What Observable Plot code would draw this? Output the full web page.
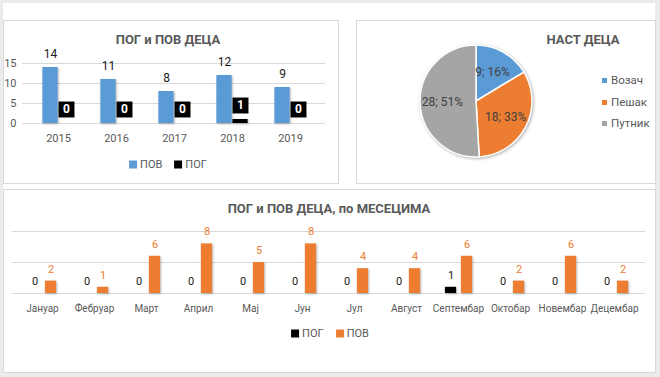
<!DOCTYPE html>
<html><head><meta charset="utf-8">
<script src="https://cdn.jsdelivr.net/npm/d3@7"></script>
<script src="https://cdn.jsdelivr.net/npm/@observablehq/plot@0.6"></script>
<style>
body{margin:0;background:#fff;font-family:Roboto,"Noto Sans",sans-serif;}
#root{position:relative;width:660px;height:377px;background:#ebebeb;overflow:hidden}
#inner{position:absolute;left:3px;top:3px;width:652px;height:369px;background:#fff}
.panel{position:absolute;border:1px solid #d9d9d9;box-sizing:border-box}
.chart{position:absolute}
.title{position:absolute;font-weight:bold;font-size:13px;color:#595959;white-space:nowrap;transform:translate(-50%,-50%)}
.legend{position:absolute;display:flex;align-items:center;font-size:11px;color:#595959;white-space:nowrap;transform:translate(-50%,-50%)}
.legend span.sw{display:inline-block;width:8px;height:8px;margin-right:3px}
.legend span.item{display:inline-flex;align-items:center;margin:0 6px}
.vleg{position:absolute;font-size:11.5px;color:#595959}
.vleg div{position:absolute;display:flex;align-items:center;white-space:nowrap;transform:translateY(-50%)}
.vleg span.sw{display:inline-block;width:5px;height:5px;margin-right:4px}
.shadow g[aria-label="bar"] rect{filter:drop-shadow(1.5px 1px 1px rgba(0,0,0,0.28))}
</style></head>
<body>
<div id="root"><div id="inner"></div>
  <div class="panel" style="left:3px;top:20px;width:336px;height:164px"></div>
  <div class="panel" style="left:356px;top:20px;width:300px;height:164px"></div>
  <div class="panel" style="left:3px;top:189px;width:653px;height:184px"></div>
  <div class="title" style="left:168px;top:39px">ПОГ и ПОВ ДЕЦА</div>
  <div class="title" style="left:583px;top:39px">НАСТ ДЕЦА</div>
  <div class="title" style="left:329px;top:208px">ПОГ и ПОВ ДЕЦА, по МЕСЕЦИМА</div>
  <div id="c1" class="chart" style="left:3px;top:45px"></div>
  <div id="c2" class="chart" style="left:356px;top:20px"></div>
  <div id="c3" class="chart" style="left:3px;top:215px"></div>
  <div id="l1" class="legend" style="left:168px;top:164px"></div>
  <div id="l2" class="vleg" style="left:602px;top:0px"></div>
  <div id="l3" class="legend" style="left:330px;top:333px"></div>
</div>
<script>
// ---- data ----
const years = ["2015","2016","2017","2018","2019"];
const povYear = [14,11,8,12,9];
const pogYear = [0,0,0,1,0];
const yearTicks = [0,5,10,15];
const yearSeries = ["ПОВ","ПОГ"];
const yearColors = ["#5b9bd5","#000000"];

const pieNames = ["Возач","Пешак","Путник"];
const pieValues = [9,18,28];
const pieColors = ["#5b9bd5","#ed7d31","#a5a5a5"];

const months = ["Јануар","Фебруар","Март","Април","Мај","Јун","Јул","Август","Септембар","Октобар","Новембар","Децембар"];
const pogMonth = [0,0,0,0,0,0,0,0,1,0,0,0];
const povMonth = [2,1,6,8,5,8,4,4,6,2,6,2];
const monthTicks = [0,5,10];
const monthSeries = ["ПОГ","ПОВ"];
const monthColors = ["#000000","#ed7d31"];

const font = 'Roboto, "Noto Sans", sans-serif';

// ---- chart 1 ----
{
  const W = 335, ml = 19, mr = 13, po = 0.08;
  const bw = (W - ml - mr) / (years.length + 2 * po);
  const half = bw / 2, barW = 16;
  const pov = years.map((y, i) => ({year: y, series: "ПОВ", value: povYear[i]}));
  const pog = years.map((y, i) => ({year: y, series: "ПОГ", value: pogYear[i]}));
  const p = Plot.plot({
    width: W, height: 103, marginLeft: ml, marginRight: mr, marginTop: 18, marginBottom: 25,
    className: "shadow",
    style: {fontFamily: font, fontSize: "11px", color: "#595959", background: "transparent", overflow: "visible"},
    x: {domain: years, paddingInner: 0, paddingOuter: po, tickSize: 0, tickPadding: 11, label: null},
    y: {domain: [0, 15], ticks: yearTicks, tickSize: 0, tickPadding: 6, label: null},
    color: {domain: yearSeries, range: yearColors},
    marks: [
      Plot.ruleY(yearTicks, {stroke: "#d9d9d9"}),
      Plot.barY(pov, {x: "year", y: "value", fill: "series", insetLeft: half - barW, insetRight: half}),
      Plot.barY(pog, {x: "year", y: "value", fill: "series", insetLeft: half, insetRight: half - barW}),
      Plot.text(pov, {x: "year", y: "value", text: "value", dx: -8, dy: -13, fontSize: 12, fill: "#1a1a1a"}),
      Plot.dot(pog, {x: "year", y: "value", dx: 8, dy: -14, symbol: "square", r: 9, fill: "#000"}),
      Plot.text(pog, {x: "year", y: "value", text: "value", dx: 8, dy: -14, fontSize: 12, fontWeight: "bold", fill: "#fff"})
    ]
  });
  document.getElementById("c1").append(p);
  document.getElementById("l1").innerHTML = yearSeries.map((s, i) =>
    `<span class="item"><span class="sw" style="background:${yearColors[i]}"></span>${s}</span>`).join("");
}

// ---- chart 2 (pie) ----
{
  const pieData = pieNames.map((name, i) => ({name, value: pieValues[i]}));
  const total = d3.sum(pieValues);
  const p = Plot.plot({
    width: 299, height: 163, margin: 0,
    style: {fontFamily: font, background: "transparent", overflow: "visible"},
    color: {domain: pieNames, range: pieColors},
    marks: [
      Plot.dot(pieData, {fill: "name", r: 0}),
      (index, scales) => {
        const color = scales.color || d3.scaleOrdinal(pieNames, pieColors);
        const cx = 120, cy = 81, R = 56;
        const arcs = d3.pie().sort(null).value(d => d.value)(pieData);
        const arc = d3.arc().innerRadius(0).outerRadius(R);
        const lab = d3.arc().innerRadius(R * 0.6).outerRadius(R * 0.6);
        const g = d3.create("svg:g").attr("transform", `translate(${cx},${cy})`);
        g.append("g").style("filter", "drop-shadow(1px 1px 1.5px rgba(0,0,0,0.3))")
          .selectAll("path").data(arcs).join("path")
          .attr("d", arc).attr("fill", d => color(d.data.name))
          .attr("stroke", "#fff").attr("stroke-width", 1.5).attr("stroke-linejoin", "round");
        g.append("g").selectAll("text").data(arcs).join("text")
          .attr("transform", d => `translate(${lab.centroid(d)})`)
          .attr("text-anchor", "middle").attr("dy", "0.35em")
          .attr("font-size", 12).attr("fill", "#404040")
          .text(d => `${d.data.value}; ${Math.round(d.data.value / total * 100)}%`);
        return g.node();
      }
    ]
  });
  document.getElementById("c2").append(p);
  const rows = [80, 102, 123];
  document.getElementById("l2").innerHTML = pieNames.map((n, i) =>
    `<div style="top:${rows[i]}px"><span class="sw" style="background:${pieColors[i]}"></span>${n}</div>`).join("");
}

// ---- chart 3 ----
{
  const W = 652, ml = 8.6, mr = 10;
  const bw = (W - ml - mr) / months.length, half = bw / 2;
  const pog = months.map((m, i) => ({month: m, series: "ПОГ", value: pogMonth[i]}));
  const pov = months.map((m, i) => ({month: m, series: "ПОВ", value: povMonth[i]}));
  const p = Plot.plot({
    width: W, height: 102, marginLeft: ml, marginRight: mr, marginTop: 16, marginBottom: 24,
    className: "shadow",
    style: {fontFamily: font, fontSize: "10px", color: "#595959", background: "transparent", overflow: "visible"},
    x: {domain: months, padding: 0, tickSize: 0, tickPadding: 11, label: null},
    y: {domain: [0, 10], axis: null},
    color: {domain: monthSeries, range: monthColors},
    marks: [
      Plot.ruleY(monthTicks, {stroke: "#d9d9d9"}),
      Plot.barY(pog, {x: "month", y: "value", fill: "series", insetLeft: half - 13.5, insetRight: half + 1.5}),
      Plot.barY(pov, {x: "month", y: "value", fill: "series", insetLeft: half + 2.5, insetRight: half - 14.5}),
      Plot.text(pog, {x: "month", y: "value", text: "value", dx: -7.5, dy: -12, fontSize: 11, fill: "#1a1a1a"}),
      Plot.text(pov, {x: "month", y: "value", text: "value", dx: 8.5, dy: -12, fontSize: 11, fill: "#ed7d31"})
    ]
  });
  document.getElementById("c3").append(p);
  document.getElementById("l3").innerHTML = monthSeries.map((s, i) =>
    `<span class="item"><span class="sw" style="background:${monthColors[i]}"></span>${s}</span>`).join("");
}
</script>
</body></html>
